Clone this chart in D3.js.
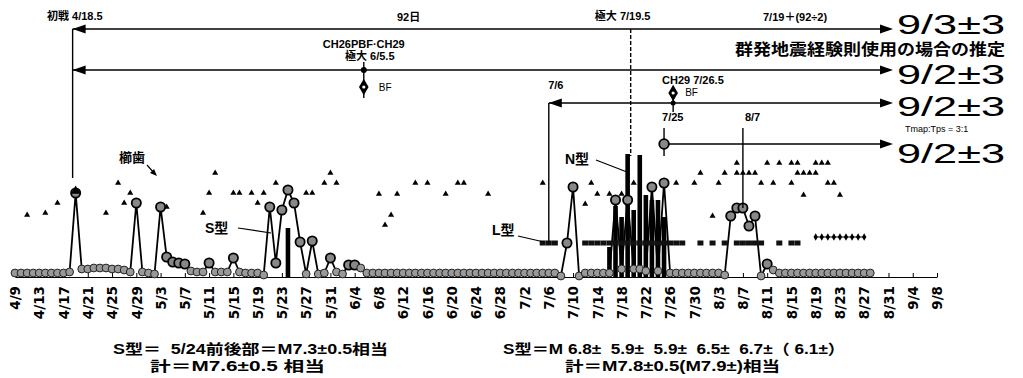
<!DOCTYPE html>
<html>
<head>
<meta charset="utf-8">
<script src="https://cdnjs.cloudflare.com/ajax/libs/d3/7.8.5/d3.min.js"></script>
<style>
  body { margin: 0; background: #fff; }
  text { font-family: "Liberation Sans", "Noto Sans CJK JP", sans-serif; font-weight: bold; fill: #000; white-space: pre; }
</style>
</head>
<body>
<svg id="chart" width="1023" height="378"></svg>
<script>
// x axis tick labels (every 4 days)
const tickLabels = ['4/9','4/13','4/17','4/21','4/25','4/29','5/3','5/7','5/11','5/15','5/19','5/23','5/27','5/31',
  '6/4','6/8','6/12','6/16','6/20','6/24','6/28','7/2','7/6','7/10','7/14','7/18','7/22','7/26','7/30',
  '8/3','8/7','8/11','8/15','8/19','8/23','8/27','8/31','9/4','9/8'];

// daily circle series (S type), height above baseline
const circleApr = [4,4,4,4,4,4,4,4,4,5,84,8,8,9,9,9,8,8,7,5,74,5];           // from 4/9
const circleMay = [4,3,70,20,15,14,13,6,5,5,14,5,5,5,19,5,4,4,4,2,
                   70,14,67,87,74,35,3,36,3,4,19];
const circleJun = [5,3,12,12,9,4,4,4,4,4,4,4,4,4,4,4,4,4,4,4,4,4,4,4,4,4,4,4,4,4];
const circleJul = [4,4,4,4,4,4,4,1,34,90,1,4,4,4,4,4,77,8,77,8,8,6,90,6,94,4,4,4,4,4,4];
const circleAug = [4,4,4,2,61,69,69,51,61,1,13,7,4,4,4,4,4,4,4,4,4,4,4,4,4,4,4,4]; // to 8/28

// small triangles
const triangles = [
  ['4/11',62],['4/14',64],['4/16',74],['4/19',86],['4/24',64],['4/26',94],['4/27',74],['4/28',84],
  ['5/4',70],['5/10',64],['5/11',84],['5/12',104],['5/15',84],['5/16',84],['5/18',84],['5/19',74],
  ['5/20',84],['5/22',94],['5/27',84],['5/28',84],['5/30',94],['5/31',104],['6/1',94],
  ['6/8',83],['6/9',52],['6/10',62],['6/11',83],['6/14',94],['6/16',94],['6/19',83],['6/21',94],
  ['6/22',94],['6/26',83],['7/5',94],['7/12',73],['7/13',94],['7/14',83],['7/16',83],['7/18',83],
  ['7/20',94],['7/27',94],['7/30',94],['7/31',104],['8/2',61],['8/3',94],['8/4',104],['8/6',114],
  ['8/6',104],['8/7',104],['8/8',104],['8/9',104],['8/10',94],['8/11',114],['8/12',94],['8/13',114],
  ['8/15',114],['8/16',114],['8/15',94],['8/16',104],['8/17',104],['8/18',104],['8/19',104],
  ['8/17',82],['8/19',114],['8/20',114],['8/21',114],['8/21',94],['8/22',94],['8/23',82]
];

// bars (N type and 5/24)
const barDates = ['5/24','7/16','7/17','7/18','7/19','7/20','7/21','7/22','7/23','7/24','7/25'];
const barValues = [49, 30, 71, 60, 123, 67, 122, 82, 77, 77, 60];

// L type squares
const lDates = ['7/5','7/6','7/7','7/12','7/13','7/14','7/15','7/16','7/17','7/18','7/19','7/20','7/21',
  '7/22','7/23','7/24','7/25','7/26','7/27','7/28','7/31','8/2','8/4','8/6','8/7','8/8','8/9','8/10',
  '8/13','8/15','8/16'];
const lValue = 34;

// diamond run late August
const dmDates = ['8/19','8/20','8/21','8/22','8/23','8/24','8/25','8/26','8/27'];
const dmValue = 40;

const parse = s => {
  const [m, d] = s.split('/').map(Number);
  const day = Math.floor(d);
  return new Date(2000, m - 1, day, (d - day) * 24);
};

const svg = d3.select('#chart');
const x = d3.scaleTime().domain([parse('4/9'), parse('9/8')]).range([15, 937]);
const y = d3.scaleLinear().domain([0, 125]).range([277, 152]);
const base = y(0);

const circleData = [];
[[circleApr, 4, 9], [circleMay, 5, 1], [circleJun, 6, 1], [circleJul, 7, 1], [circleAug, 8, 1]]
  .forEach(([arr, m, d0]) => arr.forEach((v, i) => circleData.push({ date: new Date(2000, m - 1, d0 + i), v })));

// axis
const axis = d3.axisBottom(x)
  .tickValues(tickLabels.map(parse))
  .tickSizeInner(-4).tickSizeOuter(0)
  .tickFormat((d, i) => tickLabels[i]);

const gx = svg.append('g').attr('transform', `translate(0,${base})`).call(axis);
gx.select('.domain').attr('stroke', '#000').attr('stroke-width', 1.2);
gx.selectAll('.tick line').attr('stroke', '#000');
gx.selectAll('.tick text')
  .attr('transform', 'rotate(-90)')
  .attr('x', -9).attr('y', 0).attr('dy', '0.35em')
  .style('text-anchor', 'end')
  .style('font-size', '13.5px')
  .style('font-family', '"DejaVu Sans", sans-serif')
  .style('font-weight', 'bold');

// circle line
svg.append('path')
  .datum(circleData)
  .attr('fill', 'none').attr('stroke', '#000').attr('stroke-width', 1.8)
  .attr('d', d3.line().x(d => x(d.date)).y(d => y(d.v)));

// bars
svg.selectAll('rect.bar')
  .data(barDates.map((d, i) => ({ date: parse(d), v: barValues[i] })))
  .enter().append('rect')
  .attr('x', d => x(d.date) - 2.3).attr('width', 4.6)
  .attr('y', d => y(d.v)).attr('height', d => base - y(d.v))
  .attr('fill', '#000');

// baseline + peak circles
svg.selectAll('circle.c')
  .data(circleData)
  .enter().append('circle')
  .attr('cx', d => x(d.date)).attr('cy', d => y(d.v))
  .attr('r', d => d.v > 9 ? 4.6 : 3.9)
  .attr('fill', d => d.v > 9 ? '#888' : '#999')
  .attr('stroke', d => d.v > 9 ? '#000' : '#222')
  .attr('stroke-width', d => d.v > 9 ? 1.8 : 1);

// L squares
svg.selectAll('rect.l')
  .data(lDates.map(parse))
  .enter().append('rect')
  .attr('x', d => x(d) - 3).attr('width', 6)
  .attr('y', y(lValue) - 2.5).attr('height', 5)
  .attr('fill', '#111');

// late August diamonds
svg.append('path')
  .datum(dmDates.map(parse))
  .attr('fill', 'none').attr('stroke', '#000').attr('stroke-width', 1)
  .attr('d', d3.line().x(d => x(d)).y(() => y(dmValue)));
svg.selectAll('path.dm')
  .data(dmDates.map(parse))
  .enter().append('path')
  .attr('transform', d => `translate(${x(d)},${y(dmValue)})`)
  .attr('d', d3.symbol(d3.symbolDiamond, 16))
  .attr('fill', '#000');

// triangles
svg.selectAll('path.tri')
  .data(triangles)
  .enter().append('path')
  .attr('transform', d => `translate(${x(parse(d[0]))},${y(d[1])})`)
  .attr('d', d => d3.symbol(d3.symbolTriangle, d[0] === '4/19' ? 40 : 16)())
  .attr('fill', '#000');

// ---------- annotations ----------
const arrowR = 893;
function hline(x1, x2, yy) {
  svg.append('line').attr('x1', x1).attr('x2', x2).attr('y1', yy).attr('y2', yy)
    .attr('stroke', '#000').attr('stroke-width', 1.6);
}
function vline(xx, y1, y2, dash) {
  svg.append('line').attr('x1', xx).attr('x2', xx).attr('y1', y1).attr('y2', y2)
    .attr('stroke', '#000').attr('stroke-width', 1.4)
    .attr('stroke-dasharray', dash || null);
}
function head(tip, yy, dir) {
  svg.append('path')
    .attr('d', `M${tip},${yy} L${tip - dir * 13},${yy - 4.5} L${tip - dir * 13},${yy + 4.5} Z`)
    .attr('fill', '#000');
}
function label(str, xx, yy, size, anchor, extra) {
  const t = svg.append('text').attr('x', xx).attr('y', yy)
    .style('font-size', size + 'px').attr('text-anchor', anchor || 'start').text(str);
  if (extra) extra(t);
  return t;
}
function bigText(str, yy) {
  label(str, 897, yy, 28, 'start', t => t.style('font-weight', 'normal')
    .attr('textLength', 108).attr('lengthAdjust', 'spacingAndGlyphs'));
}
function diamond(xx, yy) {
  svg.append('path').attr('transform', `translate(${xx},${yy})`)
    .attr('d', d3.symbol(d3.symbolDiamond, 80)).attr('fill', '#000');
  svg.append('circle').attr('cx', xx).attr('cy', yy).attr('r', 1.6).attr('fill', '#fff');
}

const x0 = x(parse('4/18.5'));
const xMax1 = x(parse('7/19.5'));
const xBF1 = x(parse('6/5.5'));
const x76 = x(parse('7/6'));
const xBF2 = x(parse('7/26.5'));
const x725 = x(parse('7/25'));
const x87 = x(parse('8/7'));

// line 1
label('初戦 4/18.5', 47, 20, 11);
hline(x0, arrowR - 8, 29); head(x0, 29, -1); head(arrowR, 29, 1);
label('92日', 397, 21, 11);
label('極大 7/19.5', xMax1 - 8, 20, 11, 'middle');
label('7/19＋(92÷2)', 763, 21, 11);
bigText('9/3±3', 34);
label('群発地震経験則使用の場合の推定', 735, 55, 16, 'start', t => t.attr('textLength', 270).attr('lengthAdjust', 'spacingAndGlyphs'));
vline(x0, 29, 178);
vline(xMax1, 29, 156, '4,2');

// line 2
label('CH26PBF·CH29', xBF1, 48, 11, 'middle');
label('極大 6/5.5', xBF1 + 6, 60, 11, 'middle');
hline(x0, arrowR - 8, 70); head(x0, 70, -1); head(arrowR, 70, 1);
vline(xBF1, 62, 98);
svg.append('circle').attr('cx', xBF1).attr('cy', 70).attr('r', 3).attr('fill', '#000');
diamond(xBF1, 87);
label('BF', xBF1 + 15, 91, 10, 'start', t => t.style('font-weight', 'normal'));
bigText('9/2±3', 84);

// line 3
label('7/6', x76 + 7, 89, 11, 'middle');
label('CH29 7/26.5', 662, 84, 11);
hline(x76, arrowR - 8, 103); head(x76, 103, -1); head(arrowR, 103, 1);
vline(x76, 103, y(lValue));
vline(xBF2, 86, 112);
diamond(xBF2, 93);
svg.append('circle').attr('cx', xBF2).attr('cy', 103).attr('r', 2.5).attr('fill', '#000');
label('BF', xBF2 + 12, 96, 10, 'start', t => t.style('font-weight', 'normal'));
bigText('9/2±3', 116);

// line 4
label('7/25', x725 - 2, 121, 11);
label('8/7', x87 + 2, 121, 11);
vline(x725, 128, 156);
vline(x87, 128, y(69));
hline(x725, arrowR - 8, 144); head(arrowR, 144, 1);
svg.append('circle').attr('cx', x725).attr('cy', 144).attr('r', 4.8)
  .attr('fill', '#888').attr('stroke', '#000').attr('stroke-width', 1.8);
label('Tmap:Tps = 3:1', 905, 132, 9, 'start', t => t.style('font-weight', 'normal'));
bigText('9/2±3', 163);

// series labels
label('櫛歯', 119, 162, 13);
svg.append('line').attr('x1', 147).attr('y1', 165).attr('x2', 154).attr('y2', 173)
  .attr('stroke', '#000').attr('stroke-width', 1.2);
svg.append('path').attr('d', 'M157,176 L150,173 L154,169 Z').attr('fill', '#000');

label('S型', 205, 233, 14);
svg.append('line').attr('x1', 238).attr('y1', 228).attr('x2', 271).attr('y2', 233)
  .attr('stroke', '#000').attr('stroke-width', 1.2);
label('L型', 492, 235, 14);
svg.append('line').attr('x1', 518).attr('y1', 236).attr('x2', 544).attr('y2', 242)
  .attr('stroke', '#000').attr('stroke-width', 1.2);
label('N型', 565, 164, 14);
svg.append('line').attr('x1', 596).attr('y1', 160).attr('x2', 627).attr('y2', 172)
  .attr('stroke', '#000').attr('stroke-width', 1.2);

// captions
label('S型＝  5/24前後部＝M7.3±0.5相当', 113, 354, 14, 'start', t => t.attr('textLength', 275).attr('lengthAdjust', 'spacingAndGlyphs'));
label('計＝M7.6±0.5 相当', 150, 371, 14, 'start', t => t.attr('textLength', 175).attr('lengthAdjust', 'spacingAndGlyphs'));
label('S型＝M 6.8±  5.9±  5.9±  6.5±  6.7±（ 6.1±）', 503, 354, 14, 'start', t => t.attr('textLength', 342).attr('lengthAdjust', 'spacingAndGlyphs'));
label('計＝M7.8±0.5(M7.9±)相当', 565, 371, 14, 'start', t => t.attr('textLength', 215).attr('lengthAdjust', 'spacingAndGlyphs'));
</script>
</body>
</html>
